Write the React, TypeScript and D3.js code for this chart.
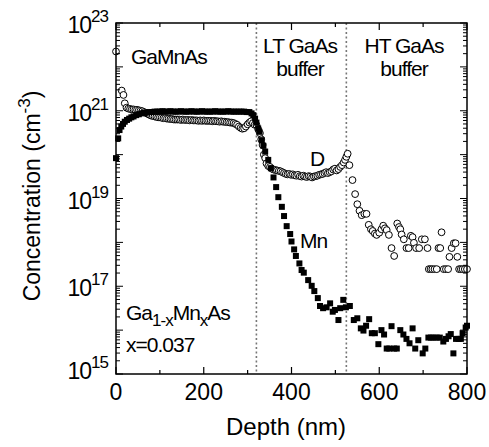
import React from 'react';
import * as d3 from 'd3';

const width = 489;
const height = 447;
const margin = { left: 116, right: 22, top: 23, bottom: 73 };

// [depth (nm), log10 concentration (cm^-3)]
const dProfile = [
  [0, 22.35], [13, 21.46], [17, 21.36], [20, 21.17], [24, 21.07], [28, 21.05], [32, 21.04], [36, 21.03],
  [40, 21.03], [44, 21.02], [48, 21.02], [52, 21.01], [56, 21.0], [60, 20.99], [64, 20.97], [68, 20.95],
  [72, 20.93], [76, 20.91], [80, 20.89], [84, 20.88], [88, 20.87], [92, 20.86], [96, 20.85], [100, 20.85],
  [104, 20.84], [108, 20.83], [112, 20.83], [116, 20.82], [120, 20.82], [124, 20.81], [128, 20.81], [132, 20.8],
  [136, 20.8], [140, 20.8], [144, 20.8], [148, 20.79], [152, 20.8], [156, 20.79], [160, 20.79], [164, 20.79],
  [168, 20.78], [172, 20.79], [176, 20.78], [180, 20.78], [184, 20.78], [188, 20.77], [192, 20.78], [196, 20.77],
  [200, 20.78], [204, 20.77], [208, 20.77], [212, 20.77], [216, 20.77], [220, 20.76], [224, 20.77], [228, 20.76],
  [232, 20.76], [236, 20.75], [240, 20.76], [244, 20.75], [248, 20.75], [252, 20.74], [256, 20.74], [260, 20.73],
  [264, 20.73], [268, 20.72], [272, 20.7], [276, 20.68], [280, 20.64], [284, 20.61], [288, 20.59], [292, 20.6],
  [296, 20.64], [300, 20.69], [304, 20.73], [308, 20.76], [312, 20.72], [316, 20.68], [320, 20.68], [324, 20.58],
  [328, 20.49], [331, 20.35], [334, 20.22], [337, 20.0], [340, 19.92], [343, 19.8], [347, 19.74], [351, 19.72],
  [355, 19.68], [359, 19.66], [363, 19.65], [367, 19.64], [371, 19.63], [375, 19.62], [379, 19.6], [383, 19.58],
  [387, 19.56], [391, 19.55], [395, 19.56], [399, 19.54], [403, 19.55], [407, 19.53], [411, 19.52], [415, 19.54],
  [419, 19.51], [423, 19.5], [427, 19.52], [431, 19.5], [435, 19.49], [439, 19.51], [443, 19.5], [447, 19.48],
  [451, 19.5], [455, 19.51], [459, 19.52], [463, 19.54], [467, 19.55], [471, 19.56], [475, 19.58], [479, 19.6],
  [483, 19.58], [487, 19.6], [491, 19.62], [495, 19.66], [499, 19.68], [503, 19.64], [507, 19.67], [511, 19.72],
  [515, 19.76], [519, 19.82], [522, 19.88], [525, 19.95], [528, 20.02], [532, 19.76], [539, 19.42], [545, 19.1],
  [550, 18.87], [555, 18.72], [560, 18.62], [566, 18.65], [571, 18.65], [576, 18.4], [581, 18.3], [585, 18.26],
  [590, 18.2], [594, 18.17], [600, 18.22], [605, 18.3], [609, 18.38], [613, 18.32], [617, 18.28], [622, 18.17],
  [628, 17.87], [634, 17.69], [641, 18.43], [645, 18.35], [648, 18.3], [651, 18.18], [656, 18.07], [662, 17.87],
  [667, 17.87], [672, 18.15], [676, 18.12], [679, 17.99], [684, 17.87], [691, 17.87], [697, 18.07], [704, 18.07],
  [710, 17.87], [713, 17.39], [717, 17.39], [721, 17.39], [726, 17.39], [731, 17.39], [735, 17.87], [739, 17.87],
  [742, 18.23], [747, 17.39], [752, 17.39], [757, 17.39], [760, 17.67], [765, 17.87], [770, 17.98], [774, 17.98],
  [778, 17.67], [782, 17.39], [786, 17.39], [790, 17.39], [795, 17.39], [800, 17.39],
];

const mnProfile = [
  [0, 19.92], [5, 20.37], [8, 20.56], [12, 20.64], [16, 20.7], [20, 20.75], [25, 20.79], [30, 20.82],
  [35, 20.85], [40, 20.87], [46, 20.9], [52, 20.92], [58, 20.94], [64, 20.95], [70, 20.96], [76, 20.97],
  [82, 20.97], [88, 20.98], [94, 20.98], [100, 20.98], [106, 20.99], [112, 20.98], [118, 20.98], [124, 20.99],
  [130, 20.98], [136, 20.98], [142, 20.98], [148, 20.99], [154, 20.98], [160, 20.98], [166, 20.98], [172, 20.99],
  [178, 20.98], [184, 20.98], [190, 20.98], [196, 20.99], [202, 20.98], [208, 20.98], [214, 20.98], [220, 20.98],
  [226, 20.99], [232, 20.98], [238, 20.98], [244, 20.98], [250, 20.98], [256, 20.99], [262, 20.98], [268, 20.98],
  [274, 20.98], [280, 20.98], [286, 20.98], [292, 20.98], [298, 20.97], [304, 20.97], [309, 20.94], [313, 20.9],
  [317, 20.82], [320, 20.73], [324, 20.6], [327, 20.52], [332, 20.33], [336, 20.2], [340, 20.07], [347, 19.88],
  [353, 19.69], [359, 19.48], [365, 19.26], [370, 19.03], [378, 18.81], [383, 18.6], [389, 18.37], [397, 18.19],
  [400, 18.02], [406, 17.84], [410, 17.69], [418, 17.52], [423, 17.37], [428, 17.31], [438, 17.14], [446, 17.01],
  [452, 16.89], [460, 16.73], [465, 16.55], [472, 16.5], [480, 16.52], [488, 16.61], [494, 16.42], [499, 16.46],
  [507, 16.23], [511, 16.5], [518, 16.69], [524, 16.52], [533, 16.55], [542, 16.23], [550, 16.27], [558, 16.04],
  [564, 15.99], [570, 16.1], [577, 16.25], [583, 15.93], [590, 15.93], [598, 15.68], [605, 16.0], [611, 15.9],
  [617, 15.58], [623, 15.58], [628, 16.09], [634, 15.58], [640, 15.58], [648, 16.0], [655, 15.9], [662, 15.8],
  [669, 15.7], [676, 16.04], [682, 15.58], [689, 15.77], [699, 15.47], [705, 15.58], [712, 15.83], [718, 15.83],
  [724, 15.83], [731, 15.83], [738, 15.83], [746, 15.74], [752, 15.8], [758, 15.86], [763, 15.91], [769, 15.47],
  [775, 15.8], [781, 15.8], [786, 15.8], [790, 15.93], [797, 16.06], [800, 16.1],
];

const xTickLabels = [0, 200, 400, 600, 800];
const xMinorTicks = [100, 300, 500, 700];
const yLabelExps = [15, 17, 19, 21, 23];
const layerBoundaries = [320, 525];

const font = 'Liberation Sans, Arial, Helvetica, sans-serif';

export default function App() {
  const x = d3.scaleLinear().domain([0, 800]).range([margin.left, width - margin.right]);
  const y = d3.scaleLog().domain([1e15, 1e23]).range([height - margin.bottom, margin.top]);
  const [x0, x1] = x.range();
  const [y0, y1] = y.range();

  // log ticks: 1..9 x 10^d
  const yTicks: { v: number; major: boolean }[] = [];
  for (let d = 15; d < 23; d++) {
    for (let k = 1; k < 10; k++) yTicks.push({ v: k * Math.pow(10, d), major: k === 1 });
  }
  yTicks.push({ v: 1e23, major: true });

  const xTicks = [
    ...xTickLabels.map(v => ({ v, major: true })),
    ...xMinorTicks.map(v => ({ v, major: false })),
  ];

  const sq = 6;

  return (
    <svg width={width} height={height} style={{ position: 'absolute', left: 0, top: 0, background: '#fff' }}
      fontFamily={font}>
      {/* layer boundaries */}
      {layerBoundaries.map(b => (
        <line key={b} x1={x(b)} x2={x(b)} y1={y1} y2={y0} stroke="#777" strokeWidth="1.6" strokeDasharray="2,2.5" />
      ))}

      {/* D: open circles */}
      {dProfile.map((d, i) => (
        <circle key={'d' + i} cx={x(d[0])} cy={y(Math.pow(10, d[1]))} r={3.4}
          fill="#fff" stroke="#000" strokeWidth="1" />
      ))}

      {/* Mn: filled squares */}
      {mnProfile.map((d, i) => (
        <rect key={'m' + i} x={x(d[0]) - sq / 2} y={y(Math.pow(10, d[1])) - sq / 2} width={sq} height={sq} fill="#000" />
      ))}

      {/* frame */}
      <rect x={x0} y={y1} width={x1 - x0} height={y0 - y1} fill="none" stroke="#000" strokeWidth="1.5" />

      {/* x ticks, bottom and top, inward */}
      {xTicks.map(t => {
        const len = t.major ? 7 : 4;
        return (
          <g key={'xt' + t.v}>
            <line x1={x(t.v)} x2={x(t.v)} y1={y0} y2={y0 - len} stroke="#000" strokeWidth="1.2" />
            <line x1={x(t.v)} x2={x(t.v)} y1={y1} y2={y1 + len} stroke="#000" strokeWidth="1.2" />
          </g>
        );
      })}
      {xTickLabels.map(v => (
        <text key={'xl' + v} x={x(v)} y={400} textAnchor="middle" fontSize="23" fill="#000">{v}</text>
      ))}

      {/* y ticks, left and right, inward */}
      {yTicks.map((t, i) => {
        const len = t.major ? 7 : 4;
        return (
          <g key={'yt' + i}>
            <line x1={x0} x2={x0 + len} y1={y(t.v)} y2={y(t.v)} stroke="#000" strokeWidth="1" />
            <line x1={x1} x2={x1 - len} y1={y(t.v)} y2={y(t.v)} stroke="#000" strokeWidth="1" />
          </g>
        );
      })}
      {yLabelExps.map(e => (
        <text key={'yl' + e} x={108} y={y(Math.pow(10, e)) + (e === 15 ? 5 : 10)} textAnchor="end" fontSize="23"
          fill="#000" letterSpacing="-1">
          10<tspan dy="-11" fontSize="17">{e}</tspan>
        </text>
      ))}

      {/* axis titles */}
      <text x={286} y={435} textAnchor="middle" fontSize="24" fill="#000">Depth (nm)</text>
      <text transform={`translate(40, ${196}) rotate(-90)`} textAnchor="middle" fontSize="23" fill="#000">
        Concentration (cm<tspan dy="-10" fontSize="17">-3</tspan><tspan dy="10">)</tspan>
      </text>

      {/* annotations */}
      <g fontSize="21" fill="#000" letterSpacing="-1">
        <text x={131} y={64}>GaMnAs</text>
        <text x={300} y={53} textAnchor="middle">LT GaAs</text>
        <text x={300} y={76} textAnchor="middle">buffer</text>
        <text x={404} y={53} textAnchor="middle">HT GaAs</text>
        <text x={404} y={76} textAnchor="middle">buffer</text>
        <text x={317} y={166} textAnchor="middle">D</text>
        <text x={300} y={248}>Mn</text>
        <text x={126} y={320}>
          Ga<tspan dy="6" fontSize="17">1-x</tspan><tspan dy="-6">Mn</tspan><tspan dy="6" fontSize="17">x</tspan><tspan dy="-6">As</tspan>
        </text>
        <text x={126} y={352}>x=0.037</text>
      </g>
    </svg>
  );
}
